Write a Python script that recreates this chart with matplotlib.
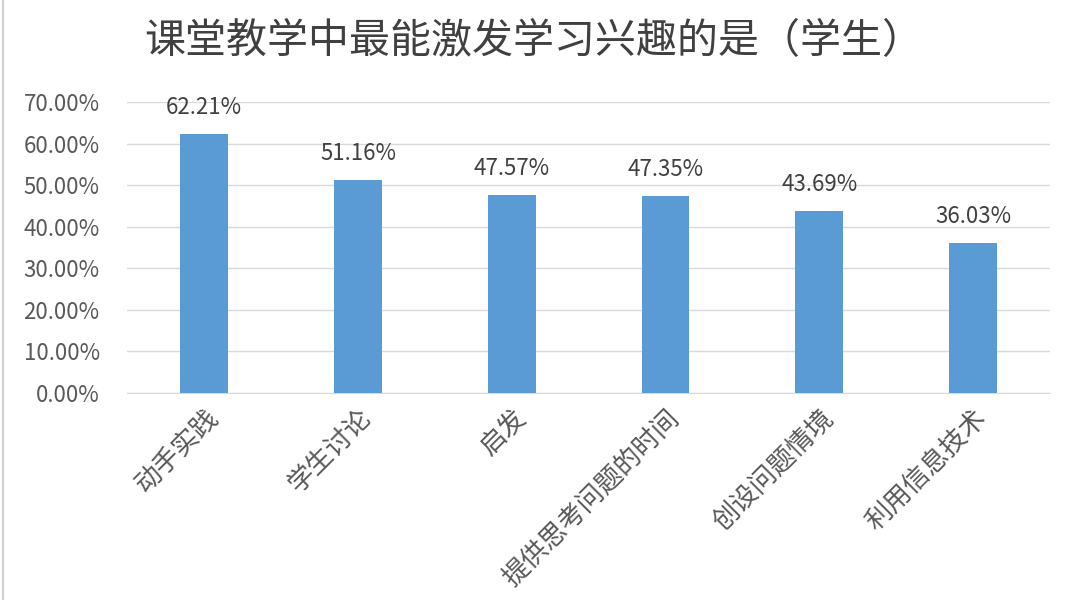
import matplotlib
matplotlib.use("Agg")
import matplotlib.pyplot as plt
from matplotlib.ticker import FuncFormatter
from matplotlib.lines import Line2D

plt.rcParams['font.family'] = ['Noto Sans CJK SC', 'DejaVu Sans']

categories = ['动手实践', '学生讨论', '启发', '提供思考问题的时间', '创设问题情境', '利用信息技术']
values = [62.21, 51.16, 47.57, 47.35, 43.69, 36.03]

bar_color = '#5B9BD5'
text_color = '#595959'

fig = plt.figure(figsize=(10.8, 6), dpi=100)
ax = fig.add_axes([0.118, 0.345, 0.854, 0.485])

x = range(len(categories))
bars = ax.bar(x, values, width=0.31, color=bar_color, zorder=3)

# 数据标签
for xi, v in zip(x, values):
    ax.text(xi, v + 3.6, f'{v:.2f}%', ha='center', va='bottom',
            fontsize=16, color='#404040')

ax.set_xlim(-0.5, len(categories) - 0.5)
ax.set_ylim(0, 70)
ax.set_yticks(range(0, 71, 10))
ax.yaxis.set_major_formatter(FuncFormatter(lambda v, p: f'{v:.2f}%'))
ax.grid(axis='y', color='#D9D9D9', linewidth=1, zorder=0)

ax.set_xticks(list(x))
ax.set_xticklabels(categories, rotation=45, ha='right', rotation_mode='anchor',
                   fontsize=19, color=text_color)
ax.tick_params(axis='x', length=0, pad=8)
ax.tick_params(axis='y', length=0, pad=20, labelsize=16, labelcolor=text_color)

for s in ['top', 'right', 'left']:
    ax.spines[s].set_visible(False)
ax.spines['bottom'].set_color('#D9D9D9')

fig.text(0.494, 0.93, '课堂教学中最能激发学习兴趣的是（学生）', ha='center', va='center',
         fontsize=29.5, color='#404040', fontweight='light')

fig.add_artist(Line2D([0.003, 0.003], [0, 1], transform=fig.transFigure,
                      color='#D0D0D0', linewidth=1.5))

fig.savefig('out.png', dpi=100)
